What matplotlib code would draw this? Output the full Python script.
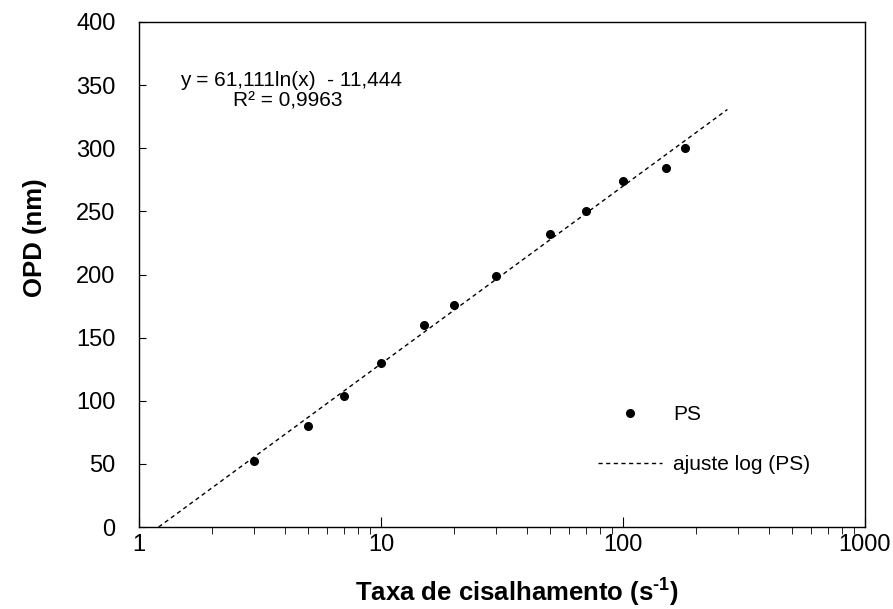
import numpy as np
import matplotlib.pyplot as plt

plt.rcParams['font.family'] = ['Liberation Sans', 'DejaVu Sans']
plt.rcParams['mathtext.fontset'] = 'custom'
plt.rcParams['mathtext.rm'] = 'Liberation Sans:bold'
plt.rcParams['mathtext.bf'] = 'Liberation Sans:bold'

# taxa de cisalhamento (s-1) e OPD (nm) medidos para PS
taxa = [3, 5, 7, 10, 15, 20, 30, 50, 70, 100, 150, 180]
opd = [52, 80, 104, 130, 160, 176, 199, 232, 250, 274, 284, 300]

# ajuste logaritmico y = a ln(x) + b
coef_a = 61.111
coef_b = -11.444
r2 = 0.9963
x_ini = 1.206
x_fim = 270

W, H = 893, 609
fig = plt.figure(figsize=(W / 100, H / 100), dpi=100)
ax = fig.add_axes([139 / W, 1 - 527 / H, 726 / W, 505 / H])

ax.plot(taxa, opd, 'o', color='black', markersize=5.5, label='PS')
xf = np.logspace(np.log10(x_ini), np.log10(x_fim), 200)
ax.plot(xf, coef_a * np.log(xf) + coef_b, '--', color='black', linewidth=1,
        dashes=(3, 2.5), label='ajuste log (PS)')

ax.set_xscale('log')
ax.set_xlim(1, 1000)
ax.set_ylim(0, 400)
ax.set_yticks(range(0, 401, 50))
ax.set_xticks([1, 10, 100, 1000])
ax.set_xticklabels(['1', '10', '100', '1000'])

ax.tick_params(axis='both', direction='in', labelsize=17, top=False, right=False)
ax.tick_params(axis='x', which='major', length=7, pad=5)
ax.tick_params(axis='x', which='minor', length=5)
ax.tick_params(axis='y', length=5, pad=17)
for s in ax.spines.values():
    s.set_linewidth(1)

# titulos dos eixos
fig.text(517 / W, 1 - 601 / H, r'Taxa de cisalhamento (s$^{\text{-}1}$)', fontsize=18.5,
         fontweight='bold', ha='center', va='baseline')
fig.text(35 / W, 1 - 238 / H, 'OPD (nm)', fontsize=18.5, fontweight='bold',
         rotation=90, ha='center', va='center')

# equacao do ajuste
fig.text(291 / W, 1 - 81 / H, 'y = 61,111ln(x)  - 11,444', fontsize=15,
         ha='center', va='center')
fig.text(288 / W, 1 - 101 / H, 'R² = 0,9963', fontsize=15, ha='center', va='center')

ax.legend(loc='upper left', bbox_to_anchor=(0.632, 0.2416), frameon=False, fontsize=15,
          borderpad=0, borderaxespad=0, handlelength=3.07, handletextpad=0.53,
          labelspacing=1.49)

fig.savefig('out.png', dpi=100)
